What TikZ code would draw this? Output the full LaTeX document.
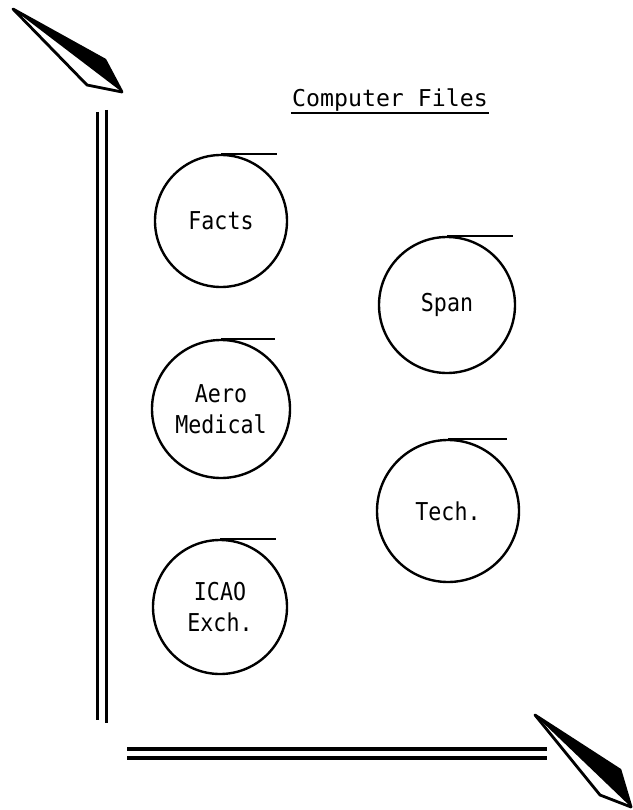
\documentclass[tikz,border=0pt]{standalone}
\usepackage{fontspec}
\setmonofont{DejaVu Sans Mono}
\newfontfamily\tapefont[FakeStretch=0.88]{DejaVu Sans Mono}
\tikzset{
  tapenode/.style={circle, draw=black, line width=1.7pt, inner sep=0pt,
    font=\tapefont\fontsize{17.5}{22}\selectfont, align=center},
  tapeedge/.style={draw=black, line width=1.7pt},
  titlenode/.style={font=\ttfamily\fontsize{16.5}{20}\selectfont,
    inner xsep=0.3mm, inner ysep=0.4pt},
  railedge/.style={draw=black, line width=2.3pt},
  pointeredge/.style={draw=black, line width=2pt, line join=round},
}

\begin{document}
\begin{tikzpicture}[x=0.25mm, y=-0.25mm]
  \useasboundingbox (0,0) rectangle (633,810);
  % title
  \node[titlenode, anchor=base] (title) at (390,107) {Computer Files};
  \draw[line width=1.5pt] (title.south west) -- (title.south east);
  % tape files
  \node[tapenode, minimum size=33mm] (facts) at (221,221) {Facts};
  \node[tapenode, minimum size=34mm] (span) at (447,305) {Span};
  \node[tapenode, minimum size=34.5mm] (aero) at (221,409) {Aero\\Medical};
  \node[tapenode, minimum size=35.5mm] (tech) at (448,511) {Tech.};
  \node[tapenode, minimum size=33.5mm] (icao) at (220,607) {ICAO\\Exch.};
  \foreach \t/\l in {facts/56,span/66,aero/54,tech/59,icao/56}
    \draw[tapeedge] (\t.north) -- ++(\l,0);
  % rails
  \draw[railedge] (97.5,112) -- (97.5,720);
  \draw[railedge] (106.5,110) -- (106.5,723);
  \draw[railedge] (127,749) -- (547,749);
  \draw[railedge] (127,758) -- (547,758);
  % pointers
  \fill (13,9) -- (105,60) -- (122,92) -- cycle;
  \draw[pointeredge] (13,9) -- (105,60) -- (122,92) -- (87,85) -- cycle;
  \fill (535,715) -- (620,770) -- (631,807) -- cycle;
  \draw[pointeredge] (535,715) -- (620,770) -- (631,807) -- (600,795) -- cycle;
\end{tikzpicture}
\end{document}
